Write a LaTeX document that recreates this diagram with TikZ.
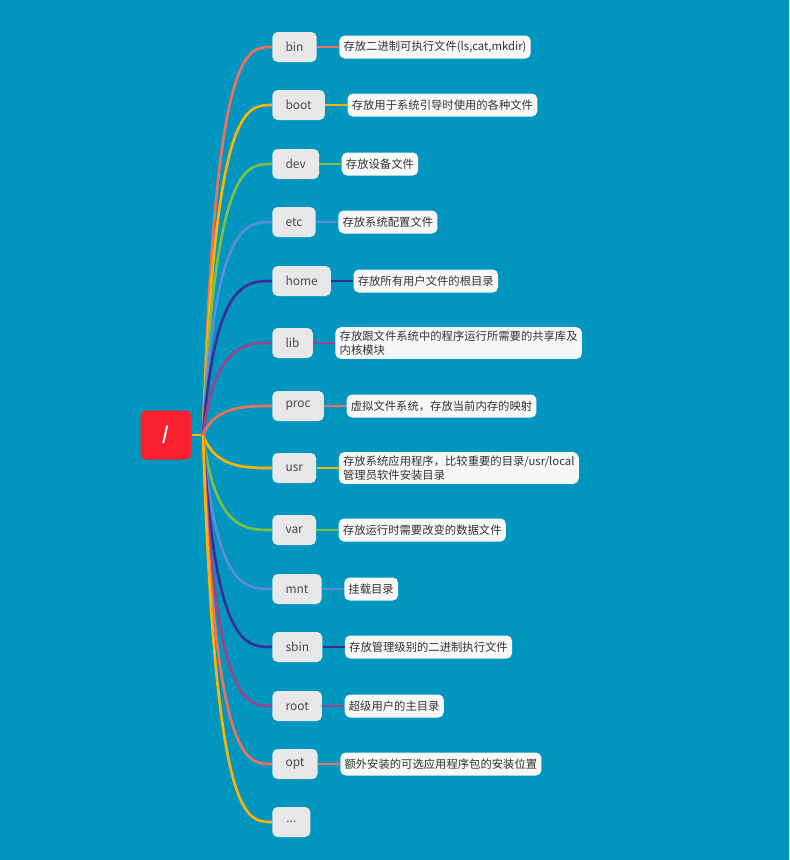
\documentclass[tikz,border=0pt]{standalone}
\usepackage{fontspec}
\usetikzlibrary{positioning,calc}
\newfontfamily\cjk{Noto Sans CJK SC}
\definecolor{MapBlue}{RGB}{0,150,191}
\definecolor{RootRed}{RGB}{250,32,46}
\definecolor{NodeGray}{RGB}{232,232,232}
\definecolor{NoteWhite}{RGB}{247,247,247}
\definecolor{LabelGray}{RGB}{72,72,72}
\definecolor{Salmon}{RGB}{242,112,94}
\definecolor{Amber}{RGB}{255,180,0}
\definecolor{Leaf}{RGB}{125,192,70}
\definecolor{Sky}{RGB}{92,140,218}
\definecolor{Indigo}{RGB}{60,45,150}
\definecolor{Plum}{RGB}{158,66,140}

\begin{document}
\begin{tikzpicture}[
        x=0.02cm, y=-0.02cm,
        node distance=0.44cm,
        rootbox/.style={fill=RootRed, rounded corners=3pt, minimum width=1.02cm, minimum height=0.98cm, text=white, font=\cjk\fontsize{10}{12}\selectfont\bfseries},
        dirbox/.style={fill=NodeGray, rounded corners=3pt, anchor=west, minimum height=0.6cm, minimum width=0.76cm, inner xsep=7.5pt, text=LabelGray, font=\cjk\fontsize{6.8}{8}\selectfont},
        note/.style={fill=NoteWhite, rounded corners=3pt, minimum height=0.46cm, inner xsep=2.4pt, inner ysep=2pt, align=left, text=black!80, font=\cjk\fontsize{6.45}{8}\selectfont},
        branch/.style={line width=1.5pt},
        link/.style={line width=1.2pt}
      ]
        \fill[MapBlue] (0,0) rectangle (789,860);
        \node[rootbox] (root) at (166,435) {/};
        \coordinate (hub) at (203,435);
        % directories
        \node[dirbox] (bin) at (272,47) {bin};
        \node[dirbox] (boot) at (272,105) {boot};
        \node[dirbox] (dev) at (272,164) {dev};
        \node[dirbox] (etc) at (272,222) {etc};
        \node[dirbox] (home) at (272,281) {home};
        \node[dirbox] (lib) at (272,343) {lib};
        \node[dirbox] (proc) at (272,406) {proc};
        \node[dirbox] (usr) at (272,468) {usr};
        \node[dirbox] (var) at (272,530) {var};
        \node[dirbox] (mnt) at (272,589) {mnt};
        \node[dirbox] (sbin) at (272,647) {sbin};
        \node[dirbox] (rootdir) at (272,706) {root};
        \node[dirbox] (opt) at (272,764) {opt};
        \node[dirbox] (more) at (272,822) {...};
        % notes
        \node[note, right=of bin] (binnote) {存放二进制可执行文件(ls,cat,mkdir)};
        \node[note, right=of boot] (bootnote) {存放用于系统引导时使用的各种文件};
        \node[note, right=of dev] (devnote) {存放设备文件};
        \node[note, right=of etc] (etcnote) {存放系统配置文件};
        \node[note, right=of home] (homenote) {存放所有用户文件的根目录};
        \node[note, right=of lib] (libnote) {存放跟文件系统中的程序运行所需要的共享库及\\内核模块};
        \node[note, right=of proc] (procnote) {虚拟文件系统，存放当前内存的映射};
        \node[note, right=of usr] (usrnote) {存放系统应用程序，比较重要的目录/usr/local\\管理员软件安装目录};
        \node[note, right=of var] (varnote) {存放运行时需要改变的数据文件};
        \node[note, right=of mnt] (mntnote) {挂载目录};
        \node[note, right=of sbin] (sbinnote) {存放管理级别的二进制执行文件};
        \node[note, right=of rootdir] (rootnote) {超级用户的主目录};
        \node[note, right=of opt] (optnote) {额外安装的可选应用程序包的安装位置};
        % branches
        \draw[branch, Amber] (root) -- (hub);
        \draw[branch, Salmon] (hub) .. controls ($(hub |- bin.west)+(12,0)$) and ($(hub |- bin.west)+(42,0)$) .. (bin.west);
        \draw[branch, Amber] (hub) .. controls ($(hub |- boot.west)+(12,0)$) and ($(hub |- boot.west)+(42,0)$) .. (boot.west);
        \draw[branch, Leaf] (hub) .. controls ($(hub |- dev.west)+(12,0)$) and ($(hub |- dev.west)+(42,0)$) .. (dev.west);
        \draw[branch, Sky] (hub) .. controls ($(hub |- etc.west)+(12,0)$) and ($(hub |- etc.west)+(42,0)$) .. (etc.west);
        \draw[branch, Indigo] (hub) .. controls ($(hub |- home.west)+(12,0)$) and ($(hub |- home.west)+(42,0)$) .. (home.west);
        \draw[branch, Plum] (hub) .. controls ($(hub |- lib.west)+(12,0)$) and ($(hub |- lib.west)+(42,0)$) .. (lib.west);
        \draw[branch, Salmon] (hub) .. controls ($(hub |- proc.west)+(12,0)$) and ($(hub |- proc.west)+(42,0)$) .. (proc.west);
        \draw[branch, Amber] (hub) .. controls ($(hub |- usr.west)+(12,0)$) and ($(hub |- usr.west)+(42,0)$) .. (usr.west);
        \draw[branch, Leaf] (hub) .. controls ($(hub |- var.west)+(12,0)$) and ($(hub |- var.west)+(42,0)$) .. (var.west);
        \draw[branch, Sky] (hub) .. controls ($(hub |- mnt.west)+(12,0)$) and ($(hub |- mnt.west)+(42,0)$) .. (mnt.west);
        \draw[branch, Indigo] (hub) .. controls ($(hub |- sbin.west)+(12,0)$) and ($(hub |- sbin.west)+(42,0)$) .. (sbin.west);
        \draw[branch, Plum] (hub) .. controls ($(hub |- rootdir.west)+(12,0)$) and ($(hub |- rootdir.west)+(42,0)$) .. (rootdir.west);
        \draw[branch, Salmon] (hub) .. controls ($(hub |- opt.west)+(12,0)$) and ($(hub |- opt.west)+(42,0)$) .. (opt.west);
        \draw[branch, Amber] (hub) .. controls ($(hub |- more.west)+(12,0)$) and ($(hub |- more.west)+(42,0)$) .. (more.west);
        % links to notes
        \draw[link, Salmon] (bin) -- (binnote);
        \draw[link, Amber] (boot) -- (bootnote);
        \draw[link, Leaf] (dev) -- (devnote);
        \draw[link, Sky] (etc) -- (etcnote);
        \draw[link, Indigo] (home) -- (homenote);
        \draw[link, Plum] (lib) -- (libnote);
        \draw[link, Salmon] (proc) -- (procnote);
        \draw[link, Amber] (usr) -- (usrnote);
        \draw[link, Leaf] (var) -- (varnote);
        \draw[link, Sky] (mnt) -- (mntnote);
        \draw[link, Indigo] (sbin) -- (sbinnote);
        \draw[link, Plum] (rootdir) -- (rootnote);
        \draw[link, Salmon] (opt) -- (optnote);
      \end{tikzpicture}
\end{document}
